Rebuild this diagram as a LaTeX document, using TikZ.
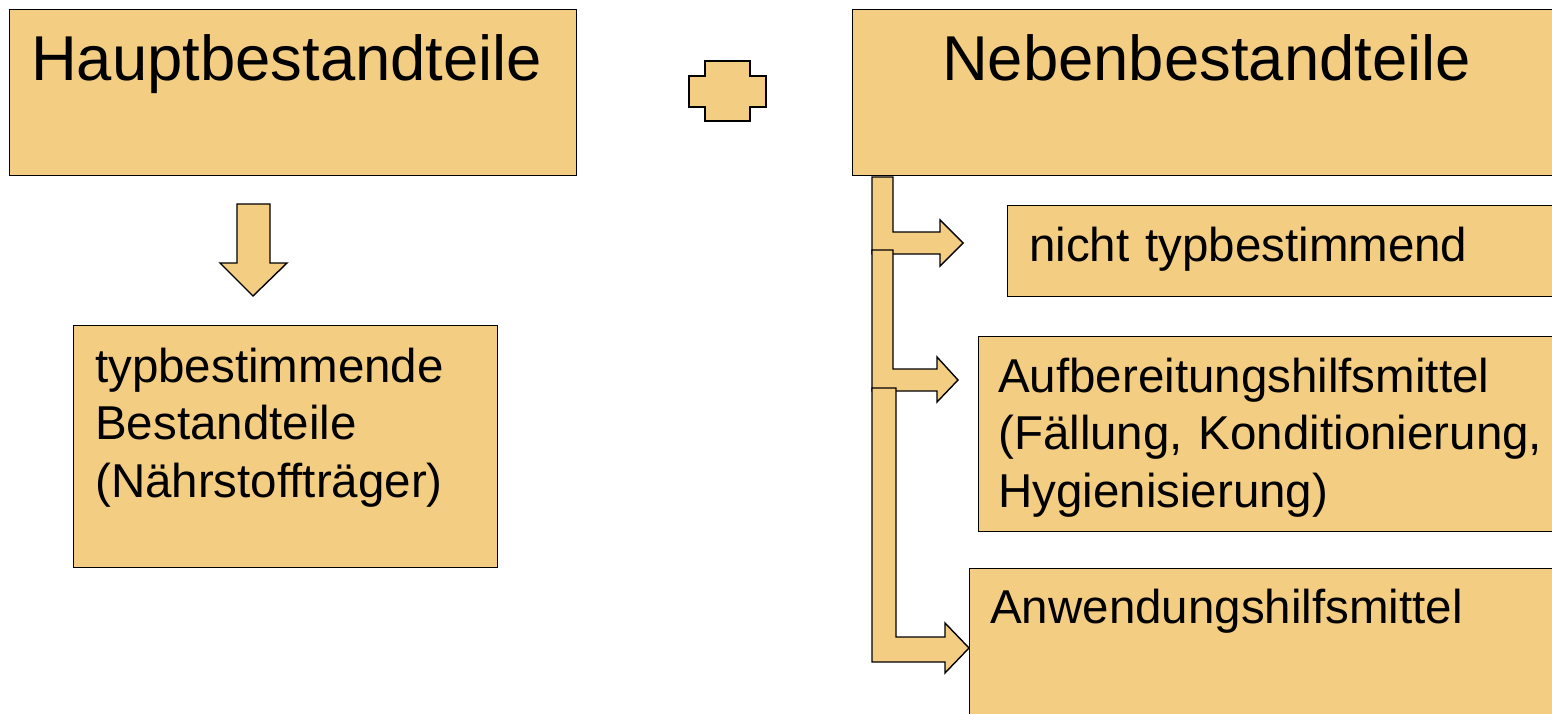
\documentclass[tikz,border=0pt]{standalone}
\usepackage{fontspec}
\setmainfont{Liberation Sans}
\definecolor{boxfill}{RGB}{243,205,130}
\tikzset{
  box/.style={draw=black, line width=1.4pt, fill=boxfill, rectangle, inner sep=0pt, anchor=north west},
  blockarrow/.style={draw=black, line width=1.4pt, fill=boxfill, line join=miter},
  bigtext/.style={anchor=base west, inner sep=0pt, font=\fontsize{63.4}{77}\selectfont},
  bodytext/.style={anchor=base west, inner sep=0pt, align=left, text width=580pt,
    font=\fontsize{47.5}{57.5}\selectfont},
}
\begin{document}
\begin{tikzpicture}[x=1pt, y=-1pt]
\useasboundingbox (0,0) rectangle (1552,714);
\clip (0,0) rectangle (1552,714);

% main boxes
\node[box, minimum width=567pt, minimum height=166pt] (haupt) at (9,9) {};
\node[box, minimum width=708pt, minimum height=166pt] (neben) at (852,9) {};
\node[box, minimum width=424pt, minimum height=242pt] (typ) at (73,325) {};
\node[box, minimum width=553pt, minimum height=91pt] (nicht) at (1007,205) {};
\node[box, minimum width=582pt, minimum height=195pt] (aufb) at (978,336) {};
\node[box, minimum width=591pt, minimum height=162pt] (anw) at (969,568) {};

% box texts
\node[bigtext] (hauptT) at (31,81) {Hauptbestandteile};
\node[bigtext] (nebenT) at (942,81) {Nebenbestandteile};
\node[bodytext] (typT) at (95,382) {typbestimmende\\Bestandteile\\(Nährstoffträger)};
\node[bodytext] (nichtT) at (1029,261) {nicht typbestimmend};
\node[bodytext] (aufbT) at (998,392) {Aufbereitungshilfsmittel\\(Fällung, Konditionierung,\\Hygienisierung)};
\node[bodytext] (anwT) at (990,623) {Anwendungshilfsmittel};

% plus sign
\draw[blockarrow] (705,61) -- (750,61) -- (750,76) -- (766,76) -- (766,107)
  -- (750,107) -- (750,121) -- (705,121) -- (705,107) -- (689,107)
  -- (689,76) -- (705,76) -- cycle;

% down arrow
\draw[blockarrow] (237,204) -- (270,204) -- (270,263) -- (287,263)
  -- (253,296) -- (220,263) -- (237,263) -- cycle;

% bent arrows from the right-hand box
\draw[blockarrow] (872,177) -- (893,177) -- (893,232) -- (940,232) -- (940,220)
  -- (963,243) -- (940,266) -- (940,254) -- (872,254) -- cycle;
\draw[blockarrow] (872,250) -- (893,250) -- (893,369) -- (937,369) -- (937,357)
  -- (958,380) -- (937,402) -- (937,391) -- (872,391) -- cycle;
\draw[blockarrow] (872,388) -- (896,388) -- (896,637) -- (945,637) -- (945,623)
  -- (969,648) -- (945,673) -- (945,662) -- (872,662) -- cycle;
\end{tikzpicture}
\end{document}
